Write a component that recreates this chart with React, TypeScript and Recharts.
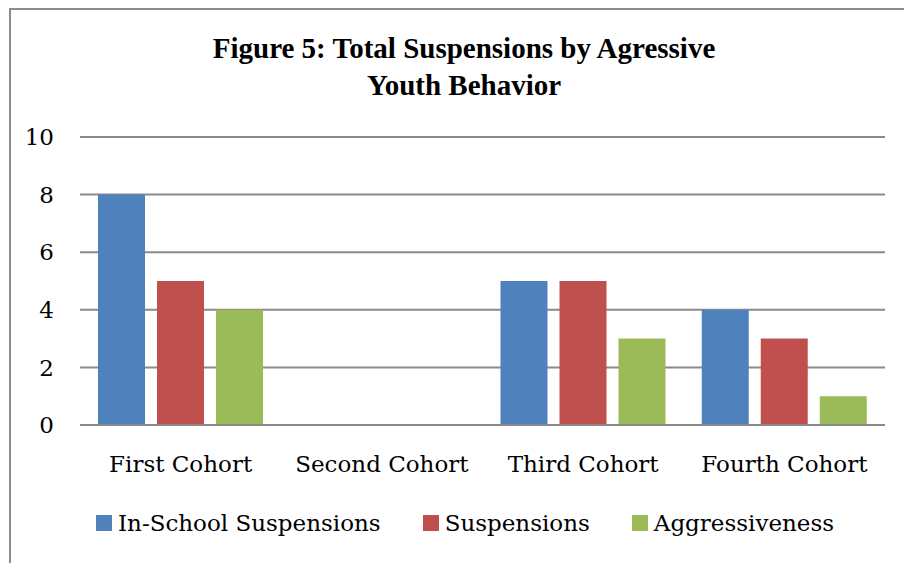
import { Bar, BarChart, CartesianGrid, Legend, XAxis, YAxis } from "recharts";

const cohorts = ["First Cohort", "Second Cohort", "Third Cohort", "Fourth Cohort"];
const inSchoolSuspensions = [8, 0, 5, 4];
const suspensions = [5, 0, 5, 3];
const aggressiveness = [4, 0, 3, 1];
const yTicks = [0, 2, 4, 6, 8, 10];

const series = [
  { key: "inSchool", name: "In-School Suspensions", color: "#4F81BD" },
  { key: "suspensions", name: "Suspensions", color: "#C0504D" },
  { key: "aggressiveness", name: "Aggressiveness", color: "#9BBB59" },
];

const data = cohorts.map((cohort, i) => ({
  cohort,
  inSchool: inSchoolSuspensions[i],
  suspensions: suspensions[i],
  aggressiveness: aggressiveness[i],
}));

const bodyFont = "'DejaVu Serif', serif";
const textSize = 23;
const gridColor = "#8a8a8a";

type LegendItem = { value: string; color: string };

// keep legend entries in series order rather than alphabetical
function LegendRow({ payload }: { payload?: LegendItem[] }) {
  const items = [...(payload ?? [])].sort(
    (a, b) => series.findIndex((s) => s.name === a.value) - series.findIndex((s) => s.name === b.value)
  );
  return (
    <div style={{ display: "flex", alignItems: "center", height: 40, paddingLeft: 85, fontFamily: bodyFont, fontSize: textSize, color: "#000" }}>
      {items.map((item) => (
        <div key={item.value} style={{ display: "flex", alignItems: "center", marginRight: 42 }}>
          <span style={{ width: 16, height: 16, background: item.color, marginRight: 6 }} />
          <span>{item.value}</span>
        </div>
      ))}
    </div>
  );
}

export default function App() {
  // the frame runs off the right and bottom of the page, so only its left and top edges show
  return (
    <div
      style={{
        position: "fixed",
        left: 9,
        top: 8,
        width: 895,
        height: 555,
        overflow: "hidden",
        borderLeft: "2px solid #8c8c8c",
        borderTop: "2px solid #8c8c8c",
        background: "#fff",
      }}
    >
      <div
        style={{
          position: "absolute",
          top: 20,
          left: 0,
          width: 906,
          textAlign: "center",
          fontFamily: "'Liberation Serif', serif",
          fontWeight: "bold",
          fontSize: 29,
          lineHeight: "37px",
        }}
      >
        Figure 5: Total Suspensions by Agressive
        <br />
        Youth Behavior
      </div>
      <BarChart
        width={906}
        height={545}
        data={data}
        margin={{ top: 127, right: 32, left: 0, bottom: 12 }}
        barCategoryGap={18}
        barGap={12}
      >
        <CartesianGrid vertical={false} stroke={gridColor} strokeWidth={2} />
        <XAxis
          dataKey="cohort"
          height={78}
          axisLine={{ stroke: gridColor, strokeWidth: 2 }}
          tickLine={false}
          tickSize={0}
          tickMargin={31}
          tick={{ fill: "#000", fontSize: textSize, fontFamily: bodyFont }}
        />
        <YAxis
          width={69}
          domain={[0, 10]}
          ticks={yTicks}
          axisLine={false}
          tickLine={false}
          tickSize={0}
          tickMargin={26}
          tick={{ fill: "#000", fontSize: textSize, fontFamily: bodyFont }}
        />
        <Legend verticalAlign="bottom" content={(props) => <LegendRow payload={props.payload as LegendItem[]} />} />
        {series.map((s) => (
          <Bar key={s.key} dataKey={s.key} name={s.name} fill={s.color} isAnimationActive={false} />
        ))}
      </BarChart>
    </div>
  );
}
